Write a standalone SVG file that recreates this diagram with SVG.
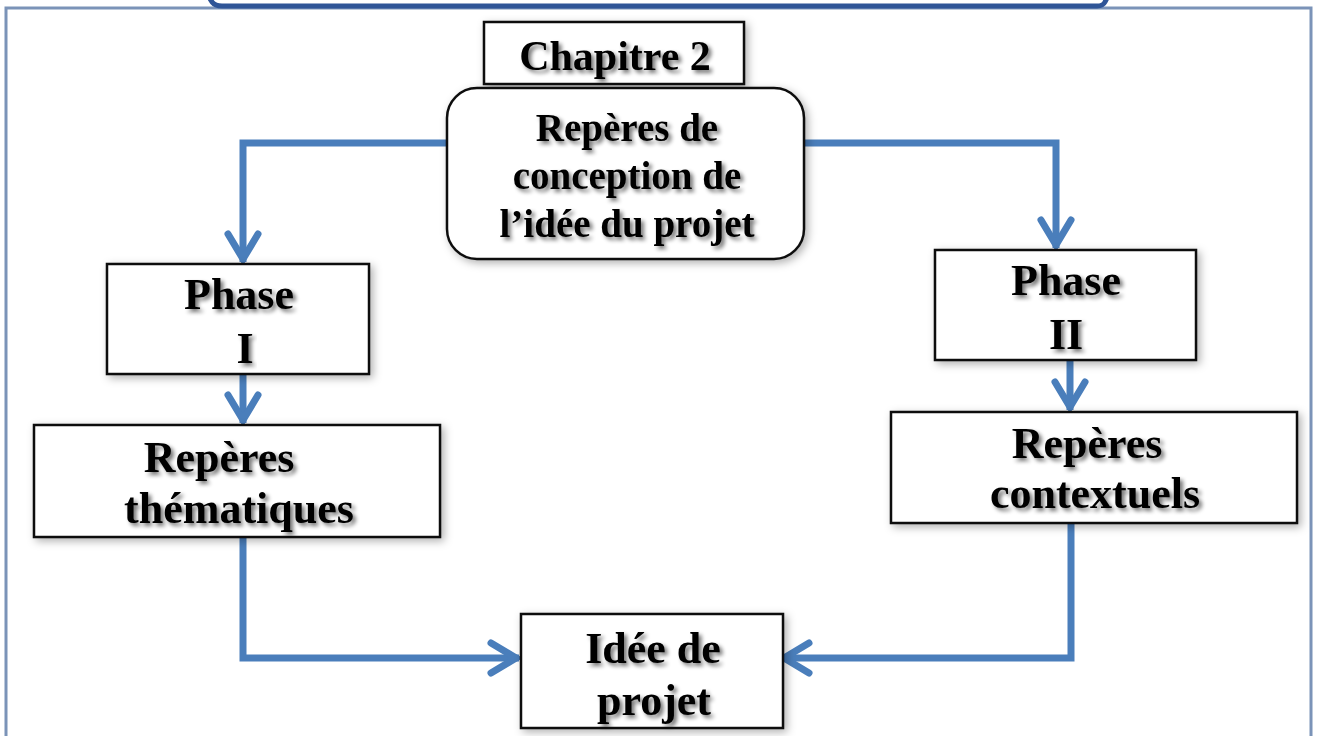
<svg xmlns="http://www.w3.org/2000/svg" width="1317" height="736" viewBox="0 0 1317 736">
  <style>
    .frame { fill: none; stroke: #7b93b8; stroke-width: 3; }
    .banner { fill: #ffffff; stroke: #2f5597; stroke-width: 5; stroke-linejoin: round; }
    .box { fill: #ffffff; stroke: #111111; stroke-width: 2.5; filter: url(#boxShadow); }
    .lbl { font-family: "Liberation Serif", "Times New Roman", serif; font-weight: bold; fill: #000000; text-anchor: middle; filter: url(#textShadow); }
    .link { fill: none; stroke: #4a7ebb; stroke-width: 7; stroke-linejoin: miter; }
  </style>
  <defs>
    <filter id="boxShadow" x="-10%" y="-10%" width="125%" height="130%">
      <feDropShadow dx="3" dy="3" stdDeviation="4" flood-color="#000000" flood-opacity="0.3"/>
    </filter>
    <filter id="textShadow" x="-10%" y="-20%" width="125%" height="150%">
      <feGaussianBlur in="SourceAlpha" stdDeviation="2.2" result="b"/>
      <feOffset in="b" dx="3" dy="3" result="o"/>
      <feComponentTransfer in="o" result="s">
        <feFuncA type="linear" slope="0.55"/>
      </feComponentTransfer>
      <feMerge>
        <feMergeNode in="s"/>
        <feMergeNode in="SourceGraphic"/>
      </feMerge>
    </filter>
    <marker id="chevron" markerUnits="userSpaceOnUse" markerWidth="40" markerHeight="40" refX="0" refY="0" orient="auto" overflow="visible">
      <path d="M-28,-15 L-3,0 L-28,15" fill="none" stroke="#4a7ebb" stroke-width="7" stroke-linecap="round" stroke-linejoin="miter"/>
    </marker>
  </defs>

  <rect width="1317" height="736" fill="#ffffff"/>

  <!-- page frame and title banner -->
  <path class="frame" d="M6,740 L6,8 L1311,8 L1311,740"/>
  <path class="banner" d="M207,-6 L212,2 Q215,6 222,6 L1097,6 Q1103,6 1105,2 L1109,-6"/>

  <!-- connectors -->
  <g id="connectors">
    <path class="link" d="M447,143 L243,143 L243,262" marker-end="url(#chevron)"/>
    <path class="link" d="M804,143 L1056,143 L1056,248" marker-end="url(#chevron)"/>
    <path class="link" d="M243,374 L243,423" marker-end="url(#chevron)"/>
    <path class="link" d="M1070,360 L1070,410" marker-end="url(#chevron)"/>
    <path class="link" d="M243,537 L243,658 L519,658" marker-end="url(#chevron)"/>
    <path class="link" d="M1071,523 L1071,658 L781,658" marker-end="url(#chevron)"/>
  </g>

  <!-- nodes -->
  <g id="chapitre">
    <rect class="box" x="484" y="22" width="260" height="62"/>
    <text class="lbl" x="615" y="70" font-size="42">Chapitre 2</text>
  </g>

  <g id="reperes-conception">
    <rect class="box" x="447" y="88" width="357" height="171" rx="30" ry="30"/>
    <text class="lbl" x="627" y="141" font-size="39">Repères de</text>
    <text class="lbl" x="627" y="189" font-size="39">conception de</text>
    <text class="lbl" x="627" y="237" font-size="39">l’idée du projet</text>
  </g>

  <g id="phase-1">
    <rect class="box" x="107" y="264" width="262" height="110"/>
    <text class="lbl" x="239" y="309" font-size="44">Phase</text>
    <text class="lbl" x="245" y="363" font-size="44">I</text>
  </g>

  <g id="reperes-thematiques">
    <rect class="box" x="34" y="425" width="406" height="112"/>
    <text class="lbl" x="219" y="472" font-size="44">Repères</text>
    <text class="lbl" x="239" y="523" font-size="44">thématiques</text>
  </g>

  <g id="phase-2">
    <rect class="box" x="935" y="250" width="261" height="110"/>
    <text class="lbl" x="1066" y="295" font-size="44">Phase</text>
    <text class="lbl" x="1066" y="349" font-size="44">II</text>
  </g>

  <g id="reperes-contextuels">
    <rect class="box" x="891" y="412" width="406" height="111"/>
    <text class="lbl" x="1087" y="458" font-size="44">Repères</text>
    <text class="lbl" x="1095" y="508" font-size="44">contextuels</text>
  </g>

  <g id="idee-projet">
    <rect class="box" x="521" y="614" width="262" height="114"/>
    <text class="lbl" x="653" y="663" font-size="44">Idée de</text>
    <text class="lbl" x="654" y="715" font-size="44">projet</text>
  </g>
</svg>
